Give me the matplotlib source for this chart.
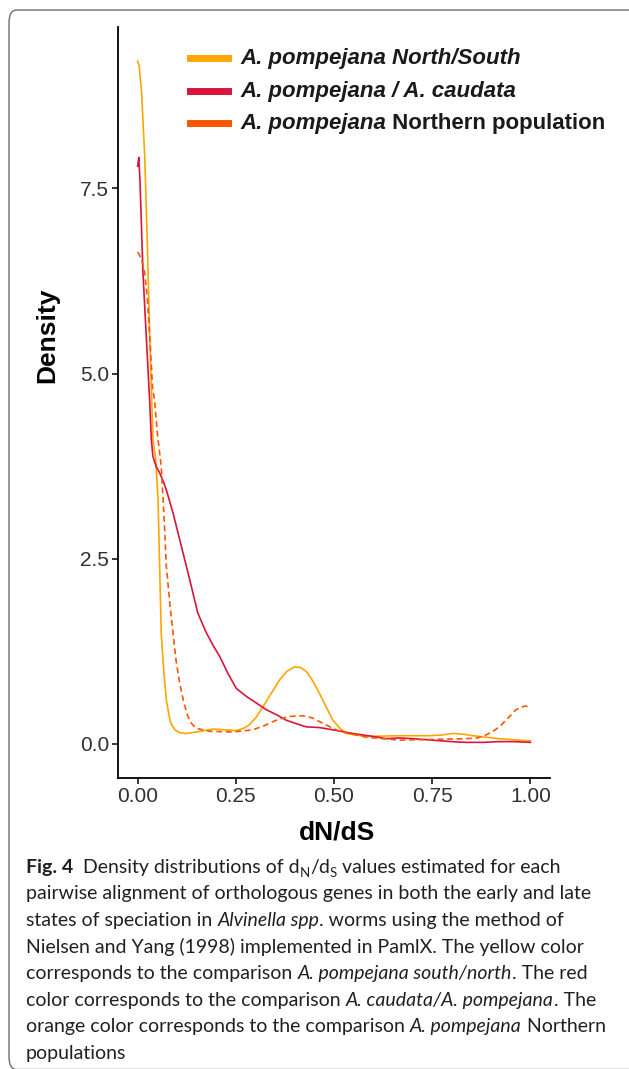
import matplotlib as mpl
mpl.use('Agg')
import matplotlib.pyplot as plt
from matplotlib.lines import Line2D
from matplotlib.patches import FancyBboxPatch

W, H = 629, 1069

# curves (dN/dS, density)
ns_x = [0.000, 0.004, 0.010, 0.018, 0.025, 0.031, 0.039, 0.046, 0.052, 0.060, 0.067,
        0.073, 0.080, 0.086, 0.095, 0.107, 0.124, 0.150, 0.192, 0.220, 0.251, 0.270,
        0.285, 0.302, 0.319, 0.340, 0.361, 0.380, 0.400, 0.415, 0.429, 0.446, 0.463,
        0.480, 0.497, 0.515, 0.531, 0.582, 0.667, 0.743, 0.775, 0.803, 0.830, 0.854,
        0.920, 1.000]
ns_y = [9.22, 9.15, 8.80, 7.94, 6.70, 5.46, 4.10, 3.85, 3.30, 1.50, 0.95,
        0.60, 0.38, 0.26, 0.19, 0.15, 0.14, 0.16, 0.20, 0.19, 0.18, 0.21,
        0.26, 0.36, 0.50, 0.68, 0.86, 0.98, 1.04, 1.03, 0.98, 0.85, 0.68,
        0.50, 0.32, 0.21, 0.14, 0.10, 0.11, 0.11, 0.12, 0.14, 0.13, 0.11,
        0.07, 0.04]

cd_x = [0.000, 0.003, 0.006, 0.010, 0.0136, 0.020, 0.027, 0.0305, 0.035, 0.039,
        0.047, 0.056, 0.065, 0.073, 0.090, 0.107, 0.124, 0.138, 0.153, 0.165,
        0.175, 0.192, 0.209, 0.230, 0.251, 0.277, 0.300, 0.328, 0.355, 0.378,
        0.400, 0.429, 0.463, 0.497, 0.548, 0.600, 0.633, 0.667, 0.700, 0.751,
        0.800, 0.836, 0.880, 0.920, 0.960, 1.000]
cd_y = [7.80, 7.92, 7.60, 6.95, 6.36, 5.70, 5.00, 4.65, 4.10, 3.88,
        3.75, 3.66, 3.55, 3.43, 3.12, 2.76, 2.40, 2.10, 1.77, 1.62,
        1.50, 1.33, 1.18, 0.95, 0.75, 0.64, 0.56, 0.46, 0.39, 0.32,
        0.28, 0.23, 0.22, 0.19, 0.14, 0.10, 0.07, 0.08, 0.07, 0.05,
        0.03, 0.02, 0.02, 0.03, 0.03, 0.02]

np_x = [0.000, 0.005, 0.012, 0.018, 0.025, 0.032, 0.038, 0.043, 0.050, 0.060,
        0.067, 0.073, 0.082, 0.090, 0.098, 0.107, 0.118, 0.128, 0.138, 0.149,
        0.183, 0.242, 0.293, 0.320, 0.344, 0.365, 0.387, 0.421, 0.445, 0.463,
        0.490, 0.514, 0.582, 0.667, 0.750, 0.836, 0.865, 0.887, 0.905, 0.921,
        0.940, 0.963, 0.985, 1.000]
np_y = [6.64, 6.60, 6.50, 6.36, 6.00, 5.40, 4.80, 4.65, 4.20, 3.75,
        3.10, 2.40, 1.90, 1.50, 1.12, 0.82, 0.55, 0.37, 0.27, 0.21,
        0.17, 0.16, 0.19, 0.24, 0.30, 0.34, 0.37, 0.38, 0.35, 0.30,
        0.23, 0.17, 0.09, 0.05, 0.06, 0.07, 0.08, 0.12, 0.17, 0.23,
        0.33, 0.46, 0.51, 0.50]

series_labels = ['A. pompejana North/South', 'A. pompejana / A. caudata',
                 'A. pompejana Northern population']
series_colors = ['#FFA500', '#DC143C', '#FF5500']

x_ticks = [0.00, 0.25, 0.50, 0.75, 1.00]
x_ticklabels = ['0.00', '0.25', '0.50', '0.75', '1.00']
y_ticks = [0.0, 2.5, 5.0, 7.5]
y_ticklabels = ['0.0', '2.5', '5.0', '7.5']

caption = [
    [('Fig. 4', 'b'), ('  Density distributions of d', ''), ('N', 's'), ('/d', ''),
     ('S', 's'), (' values estimated for each', '')],
    [('pairwise alignment of orthologous genes in both the early and late', '')],
    [('states of speciation in ', ''), ('Alvinella spp', 'i'),
     ('. worms using the method of', '')],
    [('Nielsen and Yang (1998) implemented in PamlX. The yellow color', '')],
    [('corresponds to the comparison ', ''), ('A. pompejana south/north', 'i'),
     ('. The red', '')],
    [('color corresponds to the comparison ', ''), ('A. caudata/A. pompejana', 'i'),
     ('. The', '')],
    [('orange color corresponds to the comparison ', ''), ('A. pompejana', 'i'),
     (' Northern', '')],
    [('populations', '')],
]

SANS = ['Liberation Sans', 'DejaVu Sans']
CAP = ['Lato', 'DejaVu Sans']


def fx(px):
    return px / W


def fy(py):
    return 1 - py / H


def advance(fig, rend, txt, **kw):
    a = fig.text(0, 0, '|' + txt + '|', **kw)
    b = fig.text(0, 0, '||', **kw)
    w = a.get_window_extent(rend).width - b.get_window_extent(rend).width
    a.remove()
    b.remove()
    return w


def put_runs(fig, rend, x, ybase, runs, size, family, color='#231f20'):
    for txt, st in runs:
        kw = dict(fontsize=size, family=family, color=color)
        yy = ybase
        if 'b' in st:
            kw['fontweight'] = 'bold'
        if 'i' in st:
            kw['fontstyle'] = 'italic'
        if 's' in st:
            kw['fontsize'] = size * 0.68
            yy = ybase + 4
        fig.text(fx(x), fy(yy), txt, ha='left', va='baseline', **kw)
        x += advance(fig, rend, txt, **kw)


fig = plt.figure(figsize=(W / 100, H / 100), dpi=100)
rend = fig.canvas.get_renderer()

# frame round the figure panel
frame = FancyBboxPatch((fx(9), fy(1069.5)), fx(700), (1069.5 - 10) / H,
                       boxstyle='round,pad=0,rounding_size=0.012',
                       transform=fig.transFigure, fill=False,
                       edgecolor='#6d6e71', linewidth=1.0)
fig.patches.append(frame)

ax = fig.add_axes([fx(118), fy(778), (550 - 118) / W, (778 - 27) / H])
ax.plot(ns_x, ns_y, color=series_colors[0], lw=1.2, solid_joinstyle='round')
ax.plot(cd_x, cd_y, color=series_colors[1], lw=1.2, solid_joinstyle='round')
ax.plot(np_x, np_y, color=series_colors[2], lw=1.2, ls=(0, (3.5, 2.2)))

ax.set_xlim(-0.05, 1.05)
ax.set_ylim(-0.461, 9.68)
ax.set_xticks(x_ticks)
ax.set_xticklabels(x_ticklabels)
ax.set_yticks(y_ticks)
ax.set_yticklabels(y_ticklabels)
for s in ('top', 'right'):
    ax.spines[s].set_visible(False)
for s in ('left', 'bottom'):
    ax.spines[s].set_linewidth(1.3)
    ax.spines[s].set_color('black')
ax.tick_params(length=4, width=1.1, pad=2.5, labelsize=15, labelcolor='#303030')
for lab in ax.get_xticklabels() + ax.get_yticklabels():
    lab.set_family(SANS)

fig.text(fx(47), fy(335), 'Density', rotation=90, ha='center', va='center',
         fontsize=19, fontweight='bold', family=SANS)
fig.text(fx(337), fy(833), 'dN/dS', ha='center', va='center',
         fontsize=19, fontweight='bold', family=SANS)

# legend keys and labels
leg_rows = [58, 91, 123]
for i, py in enumerate(leg_rows):
    fig.add_artist(Line2D([fx(190), fx(228)], [fy(py), fy(py)],
                          color=series_colors[i], lw=5, transform=fig.transFigure))
leg_runs = [[(series_labels[0], 'bi')], [(series_labels[1], 'bi')],
            [('A. pompejana', 'bi'), (' Northern population', 'b')]]
for py, runs in zip(leg_rows, leg_runs):
    put_runs(fig, rend, 240, py + 6, runs, 16, SANS, color='#1a1a1a')

cap_rows = [867, 893, 920, 947, 973, 1000, 1026, 1053]
for py, runs in zip(cap_rows, caption):
    put_runs(fig, rend, 26, py + 6, runs, 14, CAP)

fig.savefig('out.png', dpi=100)
